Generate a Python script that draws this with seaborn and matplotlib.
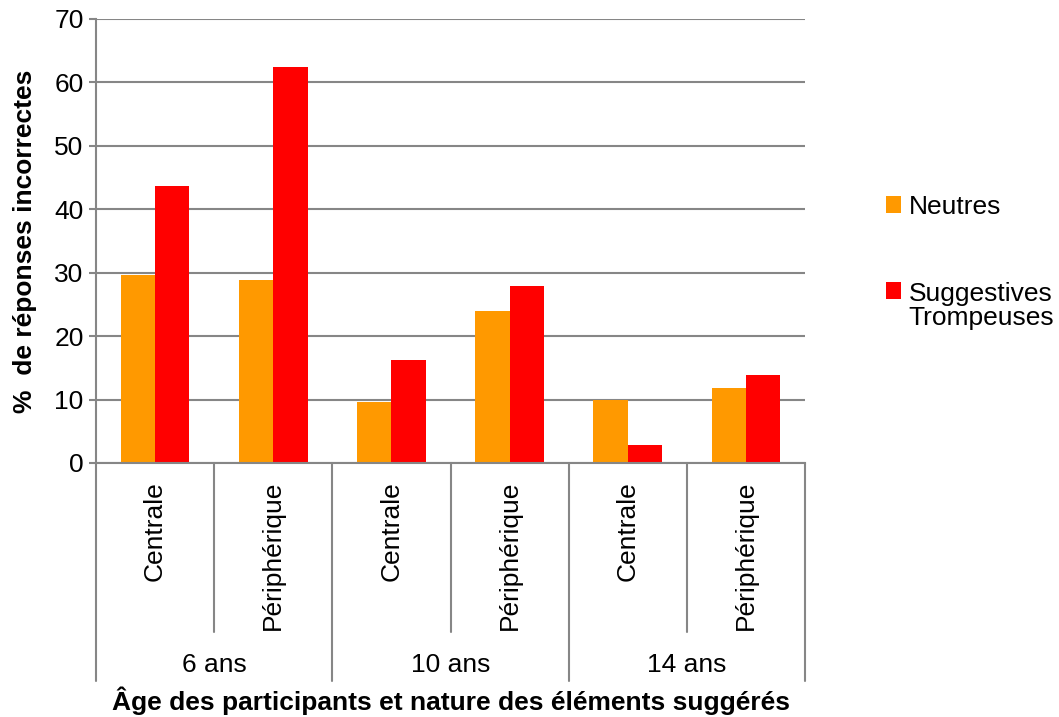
import pandas as pd
import matplotlib
matplotlib.use("Agg")
import matplotlib.pyplot as plt
import matplotlib.transforms as mtransforms
import seaborn as sns

# data
ages = ["6 ans", "10 ans", "14 ans"]
natures = ["Centrale", "Périphérique"]
series_names = ["Neutres", "Suggestives\nTrompeuses"]
neutres = [29.6, 28.8, 9.6, 23.9, 10.0, 11.9]
suggestives = [43.7, 62.5, 16.3, 27.9, 2.9, 13.9]
colors = ["#FF9900", "#FF0000"]

cats = [f"{a} - {n}" for a in ages for n in natures]
df = pd.DataFrame({
    "categorie": cats * 2,
    "type": [series_names[0]] * len(cats) + [series_names[1]] * len(cats),
    "pourcentage": neutres + suggestives,
})

sns.set_theme(style="white")
plt.rcParams['font.family'] = ['Liberation Sans', 'DejaVu Sans']
plt.rcParams['text.color'] = 'black'
plt.rcParams['xtick.labelcolor'] = 'black'
plt.rcParams['ytick.labelcolor'] = 'black'
gray = "#868686"
fs = 19

fig = plt.figure(figsize=(10.59, 7.17), dpi=100)
ax = fig.add_axes([96 / 1059, 1 - 463 / 717, 709 / 1059, 444 / 717])

sns.barplot(data=df, x="categorie", y="pourcentage", hue="type",
            order=cats, hue_order=series_names, palette=colors,
            width=0.58, gap=0, saturation=1, errorbar=None,
            linewidth=0, edgecolor="none", ax=ax)

ax.set_xlim(-0.5, 5.5)
ax.set_ylim(0, 70)
ax.set_yticks(range(0, 71, 10))
ax.yaxis.grid(True, color=gray, lw=1.5)
ax.set_axisbelow(True)
for s in ["top", "right"]:
    ax.spines[s].set_visible(False)
for s in ["left", "bottom"]:
    ax.spines[s].set_color(gray)
    ax.spines[s].set_linewidth(1.5)

ax.tick_params(axis="y", direction="out", length=5, width=1.5, color=gray,
               labelsize=fs, labelcolor="black", pad=4, left=True)
ax.set_xticks(range(len(cats)))
ax.set_xticklabels(natures * len(ages), rotation=90, fontsize=fs)
ax.tick_params(axis="x", length=0, pad=13, labelcolor="black")
ax.set_xlabel("")
ax.set_ylabel("")

# two-level category axis
trans = mtransforms.blended_transform_factory(ax.transData, ax.transAxes)
for i in range(len(cats) + 1):
    b = i - 0.5
    depth = 0.491 if i % 2 == 0 else 0.381
    ax.plot([b, b], [0, -depth], transform=trans, clip_on=False,
            color=gray, lw=1.5)
for i, a in enumerate(ages):
    ax.text(2 * i + 0.5, -0.455, a, transform=trans, ha="center",
            va="center", fontsize=fs)

ax.text(0.5, -0.536, "Âge des participants et nature des éléments suggérés",
        transform=ax.transAxes, ha="center", va="center", fontsize=fs,
        fontweight="bold")
ax.text(-0.1, 0.5, "%  de réponses incorrectes", transform=ax.transAxes,
        rotation=90, ha="center", va="center", fontsize=fs, fontweight="bold")

sns.move_legend(ax, "upper left", bbox_to_anchor=(886 / 1059, 1 - 195 / 717),
                bbox_transform=fig.transFigure, title=None, frameon=False,
                fontsize=fs, handlelength=0.55, handleheight=0.6,
                handletextpad=0.3, labelspacing=2.4, borderpad=0,
                borderaxespad=0)
leg = ax.get_legend()
for t in leg.get_texts():
    t.set_linespacing(1.0)
    t.set_color("black")
# put the red square next to the first line of its two-line label
h = leg.legend_handles[1]
h.set_y(h.get_y() + 0.6 * fs)

fig.savefig("out.png", dpi=100)
